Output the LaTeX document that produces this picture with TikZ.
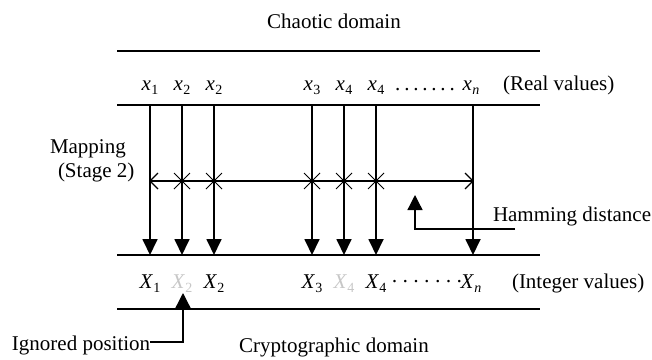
\documentclass[tikz,border=0pt]{standalone}
\usepackage{fontspec}
\setmainfont{Liberation Serif}
\usetikzlibrary{arrows.meta}
% italic symbol with an upright (or given) subscript
\newcommand\sublab[2]{\textit{#1}\kern0.3pt\raisebox{-4.5pt}{\fontsize{14}{14}\selectfont #2}}
\newcommand\spacedots[1]{#1\kern3.8pt#1\kern3.8pt#1\kern3.8pt#1\kern3.8pt#1\kern3.8pt#1\kern3.8pt#1}
\definecolor{faded}{gray}{0.78}
\begin{document}
\begin{tikzpicture}[x=1pt,y=-1pt,
  every node/.style={font=\fontsize{21}{25}\selectfont, inner sep=0pt, outer sep=0pt},
  rail/.style={line width=2pt},
  varrow/.style={line width=1.8pt, -{Triangle[length=16pt,width=15pt]}},
  hook/.style={line width=1.3pt, -{Triangle[length=15pt,width=15pt]}},
  dist/.style={line width=1.3pt},
  cross/.style={line width=1pt}]
\useasboundingbox (0,0) rectangle (652,359);

% domain titles
\node[anchor=base] (chaotic) at (334,28) {Chaotic domain};
\node[anchor=base] (crypto) at (334,352) {Cryptographic domain};

% horizontal rails
\coordinate (r1w) at (117,51);  \coordinate (r1e) at (540,51);
\coordinate (r2w) at (117,105); \coordinate (r2e) at (540,105);
\coordinate (r3w) at (117,255); \coordinate (r3e) at (540,255);
\coordinate (r4w) at (117,309); \coordinate (r4e) at (540,309);
\foreach \r in {1,2,3,4} \draw[rail] (r\r w) -- (r\r e);

% mapping arrows from real values to integer values
\foreach \i/\x in {1/150,2/182,3/214,4/312,5/344,6/376,7/473} {
  \coordinate (t\i) at (\x,105);
  \coordinate (b\i) at (\x,255);
  \draw[varrow] (t\i) -- (b\i);
}

% real values
\node[anchor=base] (xa) at (150,90) {\sublab{x}{1}};
\node[anchor=base] (xb) at (182,90) {\sublab{x}{2}};
\node[anchor=base] (xc) at (214,90) {\sublab{x}{2}};
\node[anchor=base] (xd) at (312,90) {\sublab{x}{3}};
\node[anchor=base] (xe) at (344,90) {\sublab{x}{4}};
\node[anchor=base] (xf) at (376,90) {\sublab{x}{4}};
\node[anchor=base] (xdots) at (425,90) {\spacedots{.}};
\node[anchor=base] (xn) at (471,90) {\sublab{x}{\textit{n}}};
\node[anchor=base west] (real) at (503,90) {(Real values)};

% integer values
\node[anchor=base] (Xa) at (150,288) {\sublab{X}{1}};
\node[anchor=base, text=faded] (Xb) at (182,288) {\sublab{X}{2}};
\node[anchor=base] (Xc) at (214,288) {\sublab{X}{2}};
\node[anchor=base] (Xd) at (312,288) {\sublab{X}{3}};
\node[anchor=base, text=faded] (Xe) at (344,288) {\sublab{X}{4}};
\node[anchor=base] (Xf) at (376,288) {\sublab{X}{4}};
\node[anchor=base] (Xdots) at (427,288) {\spacedots{·}};
\node[anchor=base] (Xn) at (471,288) {\sublab{X}{\textit{n}}};
\node[anchor=base west] (integer) at (512,288) {(Integer values)};

% mapping label
\node[anchor=base west] (map1) at (50,153) {Mapping};
\node[anchor=base west] (map2) at (58,177) {(Stage 2)};

% Hamming distance span with open ends and crossings
\coordinate (hl) at (150,181);
\coordinate (hr) at (473,181);
\draw[dist] (hl) -- (hr);
\draw[dist] (hl) ++(8,-8) -- (hl) -- ++(8,8);
\draw[dist] (hr) ++(-8,-8) -- (hr) -- ++(-8,8);
\foreach \x in {182,214,312,344,376} {
  \coordinate (c) at (\x,181);
  \draw[cross] (c) ++(-8,-8) -- ++(16,16);
  \draw[cross] (c) ++(-8,8) -- ++(16,-16);
}

% Hamming distance pointer
\node[anchor=base west] (ham) at (493,221) {Hamming distance};
\coordinate (hd1) at (515,229);
\coordinate (hd2) at (415,195);
\draw[hook] (hd1) -| (hd2);

% ignored position pointer
\node[anchor=base west] (ign) at (12,350) {Ignored position};
\coordinate (ig1) at (150,342);
\coordinate (ig2) at (183,293);
\draw[hook] (ig1) -| (ig2);
\end{tikzpicture}
\end{document}
